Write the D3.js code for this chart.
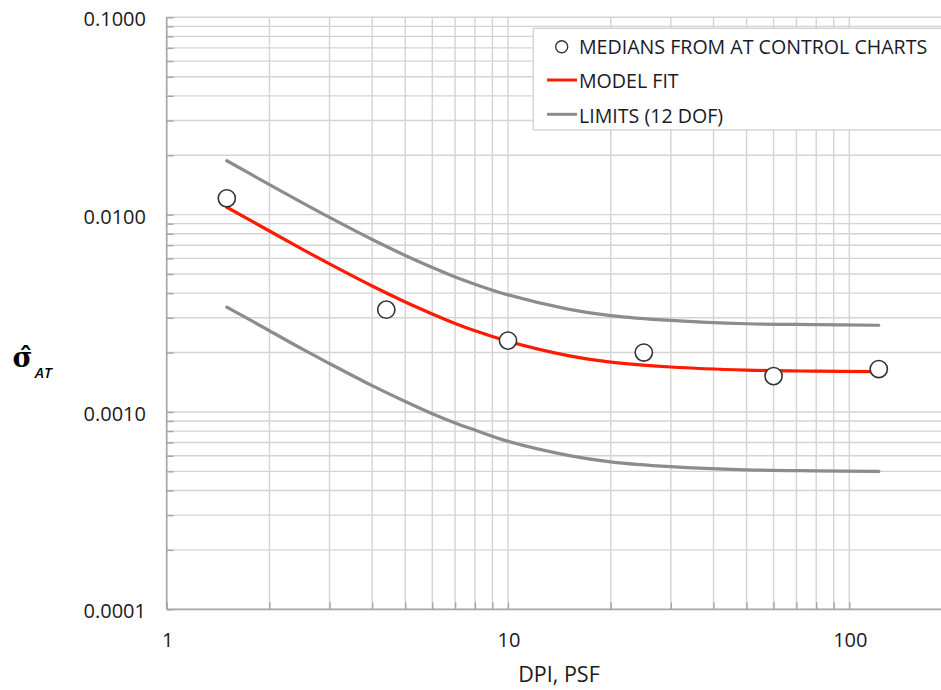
<!DOCTYPE html>
<html>
<head>
<meta charset="utf-8">
<script src="https://cdn.jsdelivr.net/npm/d3@7"></script>
<style>
  html, body { margin: 0; padding: 0; background: #fff; }
  svg { display: block; }
</style>
</head>
<body>
<svg id="chart" width="941" height="690"></svg>
<script>
// ---- data ----
const medianX = [1.5, 4.4, 10, 25, 60, 122];
const medianY = [0.0121, 0.0033, 0.0023, 0.0020, 0.00152, 0.00165];

const curveX = [1.5, 2, 2.5, 3, 4, 5, 6, 7, 8, 10, 15, 20, 30, 50, 80, 122];
const fitY   = [0.0109, 0.00826, 0.00667, 0.00563, 0.00435, 0.00361, 0.00314, 0.00281, 0.00258, 0.00228, 0.00193, 0.00179, 0.00169, 0.00163, 0.00161, 0.0016];
const upperY = [0.01875, 0.0142, 0.01147, 0.00968, 0.00748, 0.00621, 0.0054, 0.00483, 0.00444, 0.00392, 0.00332, 0.00308, 0.00291, 0.0028, 0.00277, 0.00275];
const lowerY = [0.0034, 0.00258, 0.00208, 0.00176, 0.00136, 0.00113, 0.00098, 0.00088, 0.00081, 0.00071, 0.000603, 0.000559, 0.000528, 0.000509, 0.000503, 0.0005];

const yTickValues = [0.1, 0.01, 0.001, 0.0001];
const yTickLabels = ["0.1000", "0.0100", "0.0010", "0.0001"];
const xTickValues = [1, 10, 100];
const xTickLabels = ["1", "10", "100"];
const legendLabels = ["MEDIANS FROM AT CONTROL CHARTS", "MODEL FIT", "LIMITS (12 DOF)"];
const xTitle = "DPI, PSF";

(function () {
const svg = d3.select("#chart");
const W = 941;
const pLeft = 166.7, pTop = 17.3, pBottom = 609.3;
const decadeX = 341.3;

const x = d3.scaleLog().domain([1, 1000]).range([pLeft, pLeft + 3 * decadeX]);
const y = d3.scaleLog().domain([0.0001, 0.1]).range([pBottom, pTop]);

const font = "'Open Sans', 'Noto Sans', sans-serif";
const gridColor = "#d4d4d4";
const axisColor = "#a6a6a6";

const xGrid = [];
for (let d = 1; d <= 100; d *= 10) for (let m = 1; m <= 9; m++) xGrid.push(m * d);
const yGrid = [];
for (let e = -4; e <= -2; e++) for (let m = 1; m <= 9; m++) yGrid.push(+(m * Math.pow(10, e)).toPrecision(3));
yGrid.push(0.1);

const plot = svg.append("g");

plot.append("g").selectAll("line").data(yGrid.filter(v => v > 0.0001)).join("line")
  .attr("x1", pLeft).attr("x2", W)
  .attr("y1", d => y(d)).attr("y2", d => y(d))
  .attr("stroke", gridColor).attr("stroke-width", 1.4);

plot.append("g").selectAll("line").data(xGrid.filter(v => v > 1)).join("line")
  .attr("x1", d => x(d)).attr("x2", d => x(d))
  .attr("y1", pTop).attr("y2", pBottom)
  .attr("stroke", gridColor).attr("stroke-width", 1.4);

const yAxis = d3.axisRight(y).tickValues(yGrid).tickSize(7).tickFormat("");
const gy = plot.append("g").attr("transform", `translate(${pLeft},0)`).call(yAxis);
gy.select(".domain").remove();
gy.selectAll(".tick line").attr("stroke", axisColor).attr("stroke-width", 1.4);

const xAxis = d3.axisTop(x).tickValues(xGrid).tickSize(7).tickFormat("");
const gx = plot.append("g").attr("transform", `translate(0,${pBottom})`).call(xAxis);
gx.select(".domain").remove();
gx.selectAll(".tick line").attr("stroke", axisColor).attr("stroke-width", 1.4);

plot.append("line").attr("x1", pLeft).attr("x2", pLeft).attr("y1", pTop).attr("y2", pBottom)
  .attr("stroke", axisColor).attr("stroke-width", 1.7);
plot.append("line").attr("x1", pLeft).attr("x2", W).attr("y1", pBottom).attr("y2", pBottom)
  .attr("stroke", axisColor).attr("stroke-width", 1.7);

svg.append("g").selectAll("text").data(yTickValues).join("text")
  .attr("x", 146).attr("y", d => y(d) + 2).attr("dy", "0.35em")
  .attr("text-anchor", "end")
  .attr("font-family", font).attr("font-size", 20).attr("fill", "#1a1a1a")
  .text((d, i) => yTickLabels[i]);

svg.append("g").selectAll("text").data(xTickValues).join("text")
  .attr("x", d => x(d) + 1).attr("y", 647)
  .attr("text-anchor", "middle")
  .attr("font-family", font).attr("font-size", 20).attr("fill", "#1a1a1a")
  .text((d, i) => xTickLabels[i]);

svg.append("text").attr("x", 559).attr("y", 681.5).attr("text-anchor", "middle")
  .attr("font-family", font).attr("font-size", 21.5).attr("fill", "#1a1a1a").text(xTitle);

// y-axis title: sigma-hat (combining circumflex) with subscript AT
const serif = "'DejaVu Serif', 'Liberation Serif', serif";
const yt = svg.append("text").attr("fill", "#000");
yt.append("tspan").attr("x", 12.5).attr("y", 367)
  .attr("font-family", serif).attr("font-weight", "bold").attr("font-size", 27).text("σ\u0302");
yt.append("tspan").attr("x", 35).attr("y", 378)
  .attr("font-family", font).attr("font-style", "italic").attr("font-weight", 600)
  .attr("font-size", 15).text("AT");

const line = d3.line().x(d => x(d[0])).y(d => y(d[1])).curve(d3.curveCatmullRom.alpha(0.5));
const series = [
  { vals: upperY, color: "#8c8c8c" },
  { vals: lowerY, color: "#8c8c8c" },
  { vals: fitY, color: "#ff1a00" }
];
series.forEach(s => {
  plot.append("path")
    .datum(curveX.map((cx, i) => [cx, s.vals[i]]))
    .attr("d", line)
    .attr("fill", "none").attr("stroke", s.color).attr("stroke-width", 3.2)
    .attr("stroke-linecap", "round");
});

plot.append("g").selectAll("circle").data(medianX.map((mx, i) => [mx, medianY[i]])).join("circle")
  .attr("cx", d => x(d[0])).attr("cy", d => y(d[1])).attr("r", 8.6)
  .attr("fill", "#fff").attr("stroke", "#333").attr("stroke-width", 1.6);

const lg = svg.append("g");
lg.append("rect").attr("x", 533.3).attr("y", 28.3).attr("width", 420).attr("height", 101.7)
  .attr("fill", "#fff").attr("stroke", "#d0d0d0").attr("stroke-width", 1.3);
lg.append("circle").attr("cx", 561.7).attr("cy", 46.7).attr("r", 6)
  .attr("fill", "#fff").attr("stroke", "#333").attr("stroke-width", 1.4);
lg.append("line").attr("x1", 547).attr("x2", 577).attr("y1", 80).attr("y2", 80)
  .attr("stroke", "#ff1a00").attr("stroke-width", 3);
lg.append("line").attr("x1", 547).attr("x2", 577).attr("y1", 114.3).attr("y2", 114.3)
  .attr("stroke", "#8c8c8c").attr("stroke-width", 3);
const legY = [54.3, 88.3, 123];
lg.selectAll("text.leg").data(legendLabels).join("text").attr("class", "leg")
  .attr("x", 579).attr("y", (d, i) => legY[i])
  .attr("font-family", font).attr("font-size", 19.6).attr("fill", "#1a1a2a")
  .text(d => d);
})();
</script>
</body>
</html>
